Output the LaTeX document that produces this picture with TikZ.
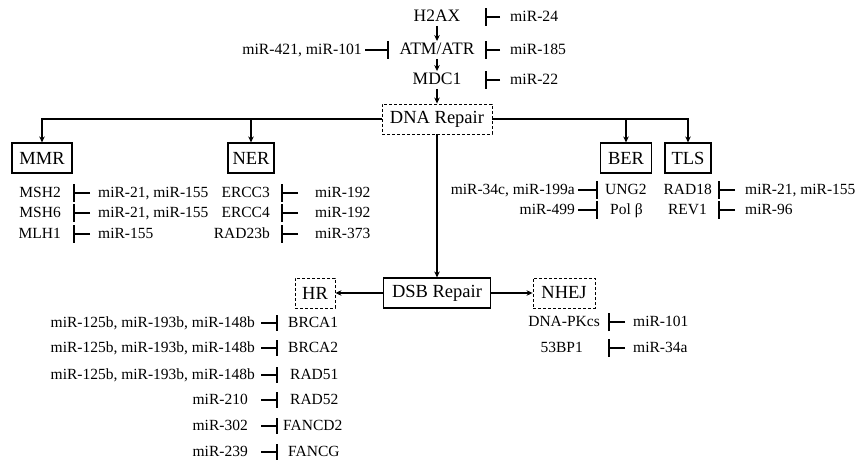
\documentclass[tikz,border=0pt]{standalone}
\usepackage{fontspec}
\setmainfont{Liberation Serif}
\usetikzlibrary{arrows.meta,positioning}
\newcommand\boxfont{\rmfamily\fontsize{18.5}{20}\selectfont}
\newcommand\genefont{\rmfamily\fontsize{17.5}{20}\selectfont}
\newcommand\listfont{\rmfamily\fontsize{15.5}{18}\selectfont}
\tikzset{
  pathway/.style={draw=black, line width=1.1pt, font=\boxfont, inner sep=0pt, minimum height=30pt},
  dashed pathway/.style={pathway, line width=0.9pt, dash pattern=on 3pt off 2pt},
  label text/.style={inner ysep=1pt, text height=12pt, text depth=3.5pt},
  top gene/.style={label text, font=\genefont, inner xsep=0pt, text width=95pt, align=center},
  gene/.style={label text, font=\listfont, inner xsep=#1},
  gene/.default=10pt,
  mir/.style={label text, font=\listfont, inner xsep=#1},
  mir/.default=8pt,
  top mir/.style={label text, font=\rmfamily\fontsize{15.7}{18}\selectfont, inner xsep=#1},
  top mir/.default=10pt,
  signal/.style={-{Stealth[length=6pt,width=5.5pt]}, line width=1.3pt},
  inhibit/.style={-{Bar[width=#1,line width=2.2pt]}, line width=1.8pt},
  inhibit/.default=18pt,
}

\begin{document}
\begin{tikzpicture}[x=1pt,y=-1pt]
  \useasboundingbox (0,0) rectangle (859,462);

  % damage signalling cascade
  \node[top gene] (h2ax) at (437,17) {H2AX};
  \node[top gene] (atm) at (437,50) {ATM/ATR};
  \node[top gene] (mdc1) at (437,80) {MDC1};
  \node[dashed pathway, minimum width=110pt] (dna) at (437,119) {DNA Repair};
  \draw[signal] (h2ax) -- (atm);
  \draw[signal] (atm) -- (mdc1);
  \draw[signal] (mdc1) -- (dna);

  \node[top mir, anchor=west] (mir24) at (500,17) {miR-24};
  \node[top mir, anchor=west] (mir185) at (500,50) {miR-185};
  \node[top mir, anchor=west] (mir22) at (500,80) {miR-22};
  \node[top mir=3pt, anchor=east] (mir421) at (365,50) {miR-421, miR-101};
  \draw[inhibit] (mir24) -- (h2ax);
  \draw[inhibit] (mir185) -- (atm);
  \draw[inhibit] (mir22) -- (mdc1);
  \draw[inhibit] (mir421) -- (atm);

  % repair pathways
  \node[pathway, minimum width=60pt] (mmr) at (42,158) {MMR};
  \node[pathway, minimum width=46pt] (ner) at (251,158) {NER};
  \node[pathway, minimum width=51pt] (ber) at (626,158) {BER};
  \node[pathway, minimum width=46pt] (tls) at (688,158) {TLS};
  \node[pathway, minimum width=107pt] (dsb) at (437,293) {DSB Repair};
  \node[dashed pathway, minimum width=40pt] (hr) at (315,293) {HR};
  \node[dashed pathway, minimum width=62pt] (nhej) at (564,293) {NHEJ};
  \draw[signal] (dna.west) -| (mmr);
  \draw[signal] (dna.west) -| (ner);
  \draw[signal] (dna.east) -| (ber);
  \draw[signal] (dna.east) -| (tls);
  \draw[signal] (dna) -- (dsb);
  \draw[signal] (dsb) -- (hr);
  \draw[signal] (dsb) -- (nhej);

  % MMR
  \foreach \gname/\mirs/\yy [count=\i] in {MSH2/{miR-21, miR-155}/193,
      MSH6/{miR-21, miR-155}/213, MLH1/miR-155/234} {
    \node[gene=12pt, anchor=east] (mmr gene\i) at (73,\yy) {\gname};
    \node[mir, anchor=west] (mmr mir\i) at (90,\yy) {\mirs};
    \draw[inhibit] (mmr mir\i) -- (mmr gene\i);
  }
  % NER
  \foreach \gname/\mirs/\yy [count=\i] in {ERCC3/miR-192/193,
      ERCC4/miR-192/213, RAD23b/miR-373/234} {
    \node[gene=11pt, anchor=east] (ner gene\i) at (281,\yy) {\gname};
    \node[mir=17pt, anchor=west] (ner mir\i) at (298,\yy) {\mirs};
    \draw[inhibit] (ner mir\i) -- (ner gene\i);
  }
  % BER
  \foreach \mirs/\gname/\yy/\gs [count=\i] in {{miR-34c, miR-199a}/UNG2/190/7,
      miR-499/Pol β/210/12} {
    \node[mir=3pt, anchor=east] (ber mir\i) at (578,\yy) {\mirs};
    \node[gene=\gs pt, anchor=west] (ber gene\i) at (598,\yy) {\gname};
    \draw[inhibit] (ber mir\i) -- (ber gene\i);
  }
  % TLS
  \foreach \gname/\mirs/\yy/\gs [count=\i] in {RAD18/{miR-21, miR-155}/190/6,
      REV1/miR-96/210/11} {
    \node[gene=\gs pt, anchor=east] (tls gene\i) at (718,\yy) {\gname};
    \node[mir=10pt, anchor=west] (tls mir\i) at (735,\yy) {\mirs};
    \draw[inhibit] (tls mir\i) -- (tls gene\i);
  }

  % HR
  \foreach \mirs/\gname/\yy/\ms/\gs [count=\i] in {
      {miR-125b, miR-193b, miR-148b}/BRCA1/323/6/10,
      {miR-125b, miR-193b, miR-148b}/BRCA2/348/6/10,
      {miR-125b, miR-193b, miR-148b}/RAD51/375/6/12,
      miR-210/RAD52/400/13/12,
      miR-302/FANCD2/426/13/5,
      miR-239/FANCG/452/13/10} {
    \node[mir=\ms pt, anchor=east] (hr mir\i) at (261,\yy) {\mirs};
    \node[gene=\gs pt, anchor=west] (hr gene\i) at (278,\yy) {\gname};
    \draw[inhibit=16pt] (hr mir\i) -- (hr gene\i);
  }
  % NHEJ
  \foreach \gname/\mirs/\yy/\gs [count=\i] in {DNA-PKcs/miR-101/322/8,
      53BP1/miR-34a/348/25} {
    \node[gene=\gs pt, anchor=east] (nhej gene\i) at (608,\yy) {\gname};
    \node[mir, anchor=west] (nhej mir\i) at (625,\yy) {\mirs};
    \draw[inhibit] (nhej mir\i) -- (nhej gene\i);
  }
\end{tikzpicture}
\end{document}
